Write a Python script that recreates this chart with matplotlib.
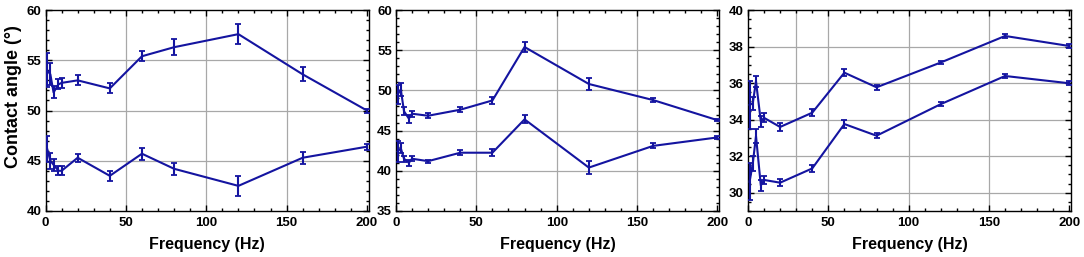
import matplotlib
matplotlib.use("Agg")
import matplotlib.pyplot as plt
from matplotlib.ticker import MultipleLocator

plt.rcParams['font.family'] = ['Liberation Sans', 'DejaVu Sans']

freq = [1, 3, 5, 8, 10, 20, 40, 60, 80, 120, 160, 200]

# panel 1
p1_up = [54.0, 53.6, 51.8, 52.6, 52.75, 53.0, 52.2, 55.4, 56.3, 57.6, 53.6, 50.0]
p1_up_err = [1.7, 1.1, 0.6, 0.5, 0.5, 0.5, 0.5, 0.5, 0.8, 1.0, 0.7, 0.2]
p1_lo = [46.2, 45.0, 44.6, 44.0, 44.0, 45.3, 43.5, 45.7, 44.2, 42.5, 45.3, 46.4]
p1_lo_err = [1.3, 0.8, 0.6, 0.45, 0.45, 0.4, 0.5, 0.6, 0.6, 1.0, 0.6, 0.3]

# panel 2
p2_up = [49.5, 50.1, 47.4, 46.5, 47.1, 46.85, 47.6, 48.75, 55.4, 50.8, 48.8, 46.3]
p2_up_err = [1.2, 0.8, 0.5, 0.5, 0.4, 0.3, 0.3, 0.4, 0.6, 0.8, 0.3, 0.1]
p2_lo = [42.4, 42.8, 41.5, 41.0, 41.5, 41.2, 42.25, 42.25, 46.4, 40.4, 43.1, 44.15]
p2_lo_err = [1.3, 0.6, 0.4, 0.4, 0.3, 0.2, 0.3, 0.4, 0.5, 0.8, 0.3, 0.15]

# panel 3
p3_up = [34.8, 34.9, 36.1, 33.9, 34.1, 33.6, 34.38, 36.57, 35.77, 37.13, 38.58, 38.03]
p3_up_err = [1.3, 0.35, 0.3, 0.3, 0.25, 0.2, 0.2, 0.2, 0.15, 0.1, 0.1, 0.1]
p3_lo = [30.6, 31.6, 33.1, 30.4, 30.7, 30.55, 31.33, 33.76, 33.12, 34.85, 36.39, 35.99]
p3_lo_err = [1.0, 0.4, 0.4, 0.3, 0.2, 0.2, 0.2, 0.2, 0.15, 0.1, 0.1, 0.1]

panels = [
    (p1_up, p1_up_err, p1_lo, p1_lo_err, (40, 60), 5, 1, [50, 100, 150]),
    (p2_up, p2_up_err, p2_lo, p2_lo_err, (35, 60), 5, 1, [50, 100, 150]),
    (p3_up, p3_up_err, p3_lo, p3_lo_err, (29, 40), 2, 0.5, [30, 50, 100, 150]),
]
lefts = [0.042, 0.3653, 0.690]
col = '#1414a0'

fig = plt.figure(figsize=(10.84, 2.57), dpi=100)
for i, (up, upe, lo, loe, ylim, ymaj, ymin, xgrid) in enumerate(panels):
    ax = fig.add_axes([lefts[i], 0.179, 0.298, 0.782])
    for y, e in [(up, upe), (lo, loe)]:
        ax.errorbar(freq, y, yerr=e, color=col, lw=1.5, elinewidth=1.5,
                    capsize=2.5, capthick=1.3, zorder=3)
    ax.set_xlim(0, 201)
    ax.set_ylim(*ylim)
    ax.xaxis.set_major_locator(MultipleLocator(50))
    ax.xaxis.set_minor_locator(MultipleLocator(10))
    ax.yaxis.set_major_locator(MultipleLocator(ymaj))
    ax.yaxis.set_minor_locator(MultipleLocator(ymin))
    ax.tick_params(which='both', direction='in', top=True, right=True,
                   labelsize=9.5, width=1)
    ax.tick_params(axis='x', pad=4)
    ax.tick_params(axis='y', pad=3)
    ax.tick_params(which='major', length=4)
    ax.tick_params(which='minor', length=2.5)
    for lbl in ax.get_xticklabels() + ax.get_yticklabels():
        lbl.set_fontweight('bold')
    for g in xgrid:
        ax.axvline(g, color='#a8a8a8', lw=0.9, zorder=1)
    for t in ax.get_yticks():
        if ylim[0] < t < ylim[1]:
            ax.axhline(t, color='#a8a8a8', lw=0.9, zorder=1)
    for s in ax.spines.values():
        s.set_linewidth(1.0)
    ax.set_xlabel('Frequency (Hz)', fontsize=11.5, fontweight='bold', labelpad=6)
    if i == 0:
        ax.set_ylabel('Contact angle (°)', fontsize=13, fontweight='bold')
        ax.yaxis.set_label_coords(-0.072, 0.57)

fig.savefig('out.png', dpi=100)
